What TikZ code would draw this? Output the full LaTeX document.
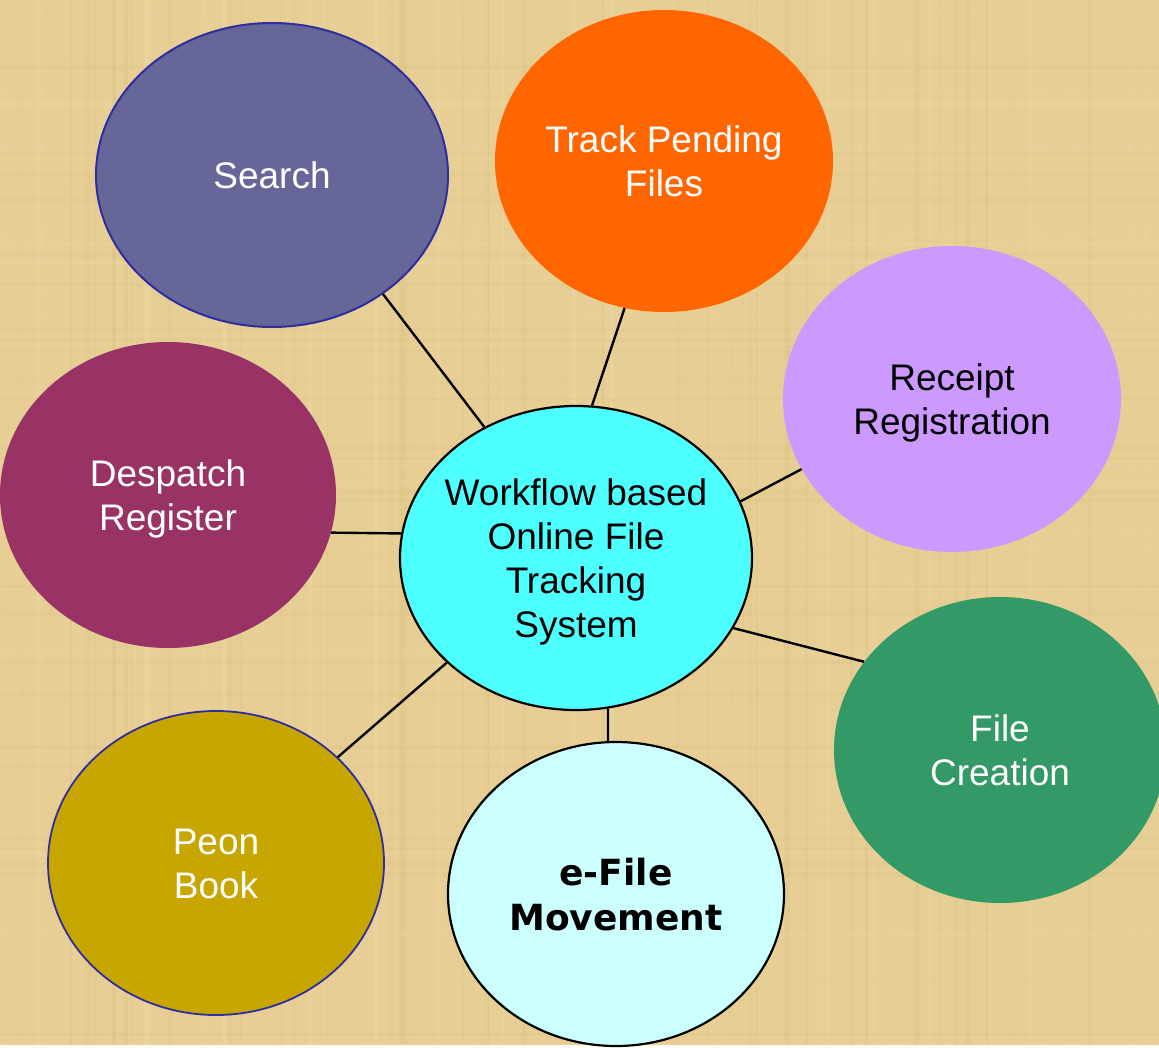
\documentclass[tikz,border=0pt]{standalone}
\usepackage{fontspec}
\setmainfont{Liberation Sans}
\newfontfamily\boldverd{DejaVu Sans}
\usetikzlibrary{shapes.geometric}
\definecolor{bgtan}{HTML}{E6CE95}
\definecolor{bglight}{HTML}{F2DEAC}
\definecolor{bgdark}{HTML}{D8BD7E}
\definecolor{cSearch}{HTML}{666699}
\definecolor{cSearchB}{HTML}{2E2E9E}
\definecolor{cTrack}{HTML}{FF6600}
\definecolor{cReceipt}{HTML}{CC99FF}
\definecolor{cDespatch}{HTML}{993366}
\definecolor{cCenter}{HTML}{4DFFFF}
\definecolor{cCreation}{HTML}{339966}
\definecolor{cMove}{HTML}{CCFFFF}
\definecolor{cPeon}{HTML}{C8A600}
\newcommand\ctxt[1]{\makebox[0pt]{\raisebox{-5pt}[\height][\depth]{\begin{tabular}{@{}c@{}}#1\end{tabular}}}}
\tikzset{
  bubble/.style={ellipse, inner sep=0pt, font=\fontsize{37}{44}\selectfont},
  link/.style={draw=black, line width=2.4pt}
}
\begin{document}
\begin{tikzpicture}[x=1pt,y=-1pt]
\fill[bgtan] (0,0) rectangle (1159,1045);
\pgfmathsetseed{7}
\foreach \i in {1,...,110}{
  \pgfmathsetmacro\xx{rnd*1159}
  \pgfmathsetmacro\ww{1+rnd*4}
  \pgfmathsetmacro\op{0.08+rnd*0.2}
  \pgfmathparse{rnd>0.5?1:0}
  \ifnum\pgfmathresult=1
    \fill[bglight, opacity=\op] (\xx,0) rectangle ++(\ww,1045);
  \else
    \fill[bgdark, opacity=\op] (\xx,0) rectangle ++(\ww,1045);
  \fi
}
\foreach \i in {1,...,80}{
  \pgfmathsetmacro\yy{rnd*1045}
  \pgfmathsetmacro\ww{1+rnd*4}
  \pgfmathsetmacro\op{0.06+rnd*0.16}
  \pgfmathparse{rnd>0.5?1:0}
  \ifnum\pgfmathresult=1
    \fill[bglight, opacity=\op] (0,\yy) rectangle ++(1159,\ww);
  \else
    \fill[bgdark, opacity=\op] (0,\yy) rectangle ++(1159,\ww);
  \fi
}
\useasboundingbox (0,0) rectangle (1159,1045);
\node[bubble, fill=cSearch, draw=cSearchB, line width=2pt, text=white, minimum width=352pt, minimum height=304pt] (search) at (272,175) {\ctxt{Search}};
\node[bubble, fill=cTrack, text=white, minimum width=338pt, minimum height=302pt] (track) at (664,161) {\ctxt{Track Pending\\Files}};
\node[bubble, fill=cReceipt, text=black, minimum width=338pt, minimum height=306pt] (receipt) at (952,399) {\ctxt{Receipt\\Registration}};
\node[bubble, fill=cDespatch, text=white, minimum width=336pt, minimum height=306pt] (despatch) at (168,495) {\ctxt{Despatch\\Register}};
\node[bubble, fill=cCenter, draw=black, line width=2.2pt, text=black, minimum width=352pt, minimum height=304pt] (center) at (576,558) {\ctxt{Workflow based\\Online File\\Tracking\\System}};
\node[bubble, fill=cCreation, text=white, minimum width=332pt, minimum height=306pt] (creation) at (1000,750) {\ctxt{File\\Creation}};
\node[bubble, fill=cMove, draw=black, line width=2.2pt, text=black, minimum width=336pt, minimum height=304pt, font=\boldverd\bfseries\fontsize{36}{45}\selectfont] (move) at (616,894) {\ctxt{e-File\\Movement}};
\node[bubble, fill=cPeon, draw=cSearchB, line width=1.8pt, text=white, minimum width=336pt, minimum height=304pt] (peon) at (216,863) {\ctxt{Peon\\Book}};
\draw[link] (search.-47) -- (center.125);
\draw[link] (track.255) -- (center.84);
\draw[link] (receipt.205) -- (center.19);
\draw[link] (despatch.-13) -- (center.172.5);
\draw[link] (creation.147) -- (center.-24.5);
\draw[link] (move.93) -- (center.-78);
\draw[link] (peon.41) -- (center.219);
\end{tikzpicture}
\end{document}
